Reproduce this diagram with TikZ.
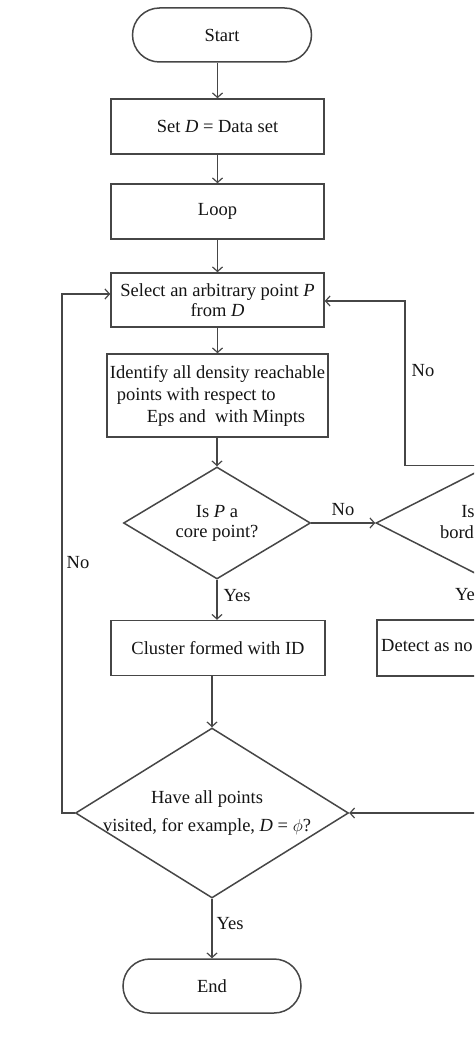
\documentclass[tikz,border=0pt]{standalone}
\usepackage{fontspec}
\setmainfont{Liberation Serif}
\usetikzlibrary{arrows.meta,shapes.geometric,shapes.misc}
\definecolor{linec}{RGB}{70,70,70}
\definecolor{textc}{RGB}{20,20,20}
\newcommand{\fs}{\fontsize{18.5}{20}\selectfont}
\begin{document}
\begin{tikzpicture}[x=1pt,y=-1pt,
  line/.style={draw=linec, line width=1.5pt},
  arr/.style={line, -{Straight Barb[length=4.5pt,width=10pt,line width=1.2pt]}},
  box/.style={draw=linec, line width=1.5pt, rectangle, inner sep=0pt,
    minimum width=213pt, minimum height=55pt, font=\fs, text=textc, align=center},
  term/.style={draw=linec, line width=1.5pt, rounded rectangle, inner sep=0pt,
    minimum width=179pt, minimum height=54pt, font=\fs, text=textc},
  dec/.style={draw=linec, line width=1.5pt, diamond, inner sep=0pt},
  lab/.style={font=\fs, text=textc, inner sep=0pt}]
\useasboundingbox (0,0) rectangle (474,1059);
\clip (0,0) rectangle (474,1059);

\node[term] (start) at (222,35) {Start};
\node[box] (setd) at (217.5,126.5) {Set \textit{D} = Data set};
\node[box] (loop) at (217.5,211.5) {Loop};
\node[box, minimum height=54pt] (select) at (217.5,300)
  {Select an arbitrary point \textit{P}\\from \textit{D}};
\node[box, minimum width=221pt, minimum height=83pt, align=left,
  font=\fontsize{18.5}{22}\selectfont] (ident) at (217.5,395.5)
  {Identify all density reachable\\\hspace*{7pt}points with respect to\\\hspace*{37pt}Eps and~ with Minpts};
\node[dec, minimum width=187pt, minimum height=112pt,
  label={[lab, align=center, font=\fontsize{18.5}{20}\selectfont]center:Is \textit{P} a\\core point?}] (core) at (217,523) {};
\node[dec, minimum width=224pt, minimum height=114pt] (border) at (488,523) {};
\node[lab] (bt1) at (468,512) {Is};
\node[lab] (bt2) at (457,532) {bord};
\node[box, minimum width=214pt, minimum height=55pt] (cluster) at (218,648) {Cluster formed with ID};
\node[box, minimum width=223pt, minimum height=56pt] (detect) at (488.5,648) {};
\node[lab, anchor=west] (dettxt) at (381,646) {Detect as no};
\node[dec, minimum width=273pt, minimum height=170pt,
  label={[lab, align=center, font=\fontsize{18.5}{28}\selectfont, xshift=-5pt]center:Have all points\\visited, for example, \textit{D} = $\phi$?}] (all) at (212,813) {};
\node[term, minimum width=178pt] (end) at (212,986) {End};

% labels
\node[lab] (lno1) at (343,510) {No};
\node[lab] (lyes1) at (237,596) {Yes};
\node[lab] (lno2) at (78,563) {No};
\node[lab] (lno3) at (423,371) {No};
\node[lab] (lyes2) at (230,924) {Yes};
\node[lab, anchor=west] (lyes3) at (455,595) {Ye};

% connectors
\draw[arr] (start.south -| setd.north) -- (setd.north);
\draw[arr] (setd.south) -- (loop.north);
\draw[arr] (loop.south) -- (select.north);
\draw[arr] (select.south) -- (ident.north);
\draw[arr] (ident.south -| core.north) -- (core.north);
\draw[arr] (core.south) -- (cluster.north -| core.south);
\draw[arr] (core.east) -- (border.west);
\draw[arr] (border.south) -- (detect.north);
\draw[arr] (cluster.south -| all.north) -- (all.north);
\draw[arr] (all.south) -- (end.north);
\coordinate (lc) at (62,813);
\draw[arr] (all.west) -- (lc) |- ([yshift=6pt]select.west);
\coordinate (rc) at (405,466);
\draw[arr] (border.north) -- (border.north -| rc) |- ([yshift=-1pt]select.east);
\coordinate (re) at (520,813);
\draw[arr] (re) -- (all.east);
\end{tikzpicture}
\end{document}
